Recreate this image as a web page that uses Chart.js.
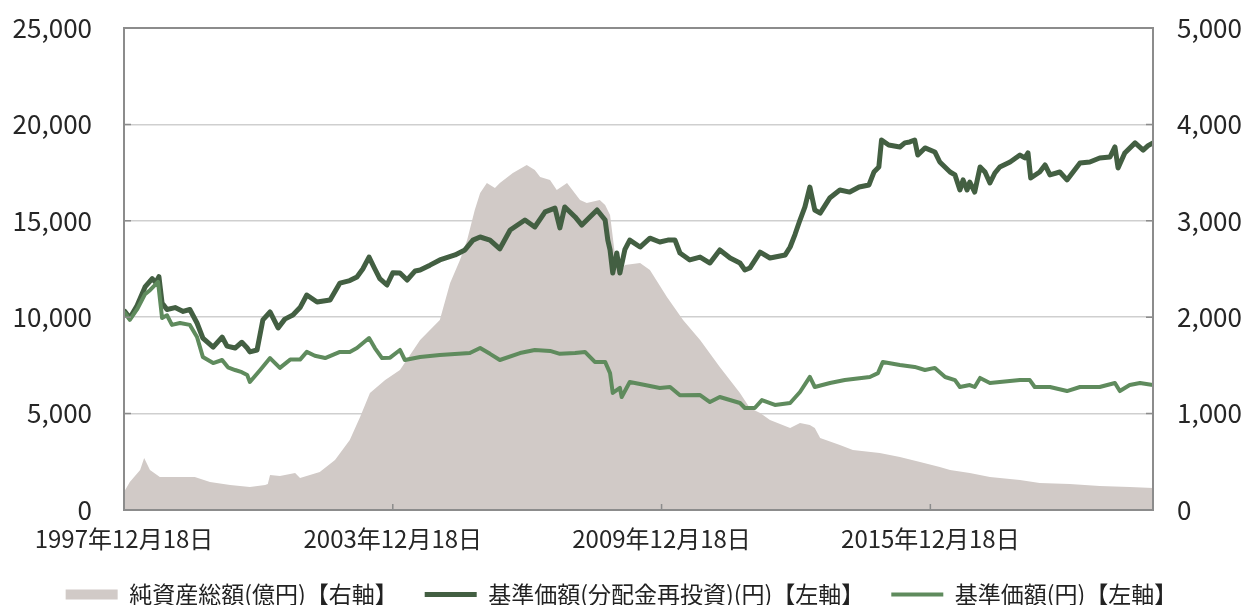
<!DOCTYPE html>
<html><head><meta charset="utf-8">
<script src="https://cdn.jsdelivr.net/npm/chart.js@4"></script>
<style>html,body{margin:0;padding:0;background:#fff}#wrap{width:1243px;height:605px}</style>
</head><body><div id="wrap"><canvas id="c" width="1243" height="605"></canvas></div>
<script>
// ---- data ----
const seriesNames = ['純資産総額(億円)【右軸】', '基準価額(分配金再投資)(円)【左軸】', '基準価額(円)【左軸】'];
const tickYears = [1997.96, 2003.96, 2009.96, 2015.96];
const tickLabels = ['1997年12月18日', '2003年12月18日', '2009年12月18日', '2015年12月18日'];
const leftTickLabels = ['0', '5,000', '10,000', '15,000', '20,000', '25,000'];
const rightTickLabels = ['0', '1,000', '2,000', '3,000', '4,000', '5,000'];

const assetDates = [1997.96,1998.09,1998.32,1998.41,1998.54,1998.76,1999.21,1999.54,1999.88,2000.33,2000.77,2001.11,2001.17,2001.22,2001.44,2001.78,2001.89,2002.33,2002.67,2003.00,2003.23,2003.45,2003.79,2004.12,2004.57,2005.01,2005.24,2005.46,2005.62,2005.79,2005.91,2006.06,2006.24,2006.35,2006.64,2006.95,2007.13,2007.25,2007.47,2007.62,2007.85,2008.14,2008.29,2008.58,2008.70,2008.81,2008.92,2009.03,2009.14,2009.48,2009.70,2010.08,2010.44,2010.82,2011.26,2011.71,2011.93,2012.16,2012.38,2012.83,2013.05,2013.27,2013.38,2013.50,2013.94,2014.23,2014.83,2015.28,2015.73,2016.17,2016.40,2016.84,2017.29,2017.96,2018.40,2019.07,2019.74,2020.41,2020.93];
const assetValues = [186,290,414,540,414,342,342,342,290,260,238,260,270,363,352,384,332,394,518,726,964,1214,1348,1452,1764,1971,2355,2594,2801,3112,3289,3392,3340,3392,3496,3579,3527,3454,3423,3320,3392,3216,3185,3216,3164,3060,2645,2438,2541,2562,2490,2210,1971,1764,1483,1214,1058,1006,934,850,902,882,850,746,674,622,591,550,498,446,415,384,342,311,280,270,249,239,228];

const navReinvDates = [1997.98,1998.09,1998.25,1998.43,1998.59,1998.67,1998.74,1998.81,1998.92,1999.10,1999.28,1999.43,1999.59,1999.72,1999.95,2000.15,2000.26,2000.44,2000.59,2000.71,2000.77,2000.93,2001.06,2001.22,2001.40,2001.55,2001.73,2001.89,2002.04,2002.27,2002.56,2002.78,2003.00,2003.16,2003.29,2003.43,2003.56,2003.67,2003.83,2003.96,2004.12,2004.28,2004.46,2004.57,2004.79,2005.01,2005.35,2005.57,2005.75,2005.91,2006.13,2006.35,2006.58,2006.91,2007.13,2007.36,2007.58,2007.69,2007.80,2008.03,2008.18,2008.36,2008.52,2008.70,2008.76,2008.81,2008.87,2008.96,2009.03,2009.14,2009.25,2009.48,2009.70,2009.92,2010.10,2010.26,2010.37,2010.59,2010.82,2011.04,2011.26,2011.49,2011.71,2011.82,2011.93,2012.16,2012.38,2012.72,2012.83,2012.94,2013.05,2013.16,2013.27,2013.38,2013.50,2013.72,2013.94,2014.16,2014.37,2014.59,2014.70,2014.81,2014.87,2015.03,2015.28,2015.39,2015.50,2015.61,2015.68,2015.84,2016.06,2016.17,2016.40,2016.51,2016.62,2016.69,2016.78,2016.84,2016.95,2017.07,2017.18,2017.29,2017.40,2017.51,2017.74,2017.96,2018.07,2018.14,2018.20,2018.40,2018.52,2018.63,2018.85,2019.01,2019.30,2019.52,2019.74,2019.97,2020.08,2020.15,2020.30,2020.53,2020.71,2020.82,2020.93];
const navReinvValues = [10300,9960,10600,11570,12000,11800,12100,10740,10400,10500,10300,10400,9700,8920,8450,8970,8500,8400,8700,8400,8200,8300,9860,10270,9440,9900,10110,10500,11150,10790,10890,11770,11900,12090,12500,13120,12500,12000,11670,12300,12290,11930,12400,12450,12700,12970,13230,13490,14000,14160,14000,13550,14520,15040,14680,15460,15660,14630,15720,15200,14780,15200,15560,15040,14000,13490,12290,13330,12290,13500,14000,13640,14100,13900,14000,14000,13330,12970,13120,12810,13490,13070,12810,12450,12550,13380,13070,13230,13640,14300,15040,15720,16750,15560,15400,16200,16600,16490,16750,16860,17530,17790,19190,18930,18830,19040,19090,19190,18410,18780,18570,18050,17530,17380,16600,17120,16600,17010,16490,17790,17530,16960,17480,17790,18050,18410,18260,18520,17220,17530,17900,17380,17530,17120,18000,18050,18260,18310,18830,17740,18520,19040,18670,18900,19040];

const navDates = [1997.98,1998.09,1998.25,1998.43,1998.54,1998.72,1998.81,1998.92,1999.03,1999.21,1999.43,1999.59,1999.72,1999.95,2000.15,2000.28,2000.44,2000.59,2000.71,2000.77,2001.00,2001.22,2001.44,2001.67,2001.89,2002.04,2002.22,2002.45,2002.78,2003.00,2003.16,2003.43,2003.56,2003.72,2003.90,2004.12,2004.23,2004.57,2005.01,2005.68,2005.91,2006.13,2006.35,2006.80,2007.13,2007.47,2007.69,2008.03,2008.25,2008.47,2008.70,2008.81,2008.87,2009.03,2009.07,2009.25,2009.59,2009.92,2010.15,2010.37,2010.82,2011.04,2011.26,2011.71,2011.82,2012.04,2012.20,2012.49,2012.83,2013.05,2013.27,2013.38,2013.72,2014.05,2014.61,2014.79,2014.90,2015.28,2015.61,2015.84,2016.06,2016.29,2016.51,2016.62,2016.84,2016.95,2017.07,2017.29,2017.51,2017.96,2018.18,2018.29,2018.63,2019.01,2019.30,2019.74,2020.08,2020.19,2020.41,2020.64,2020.93];
const navValues = [10220,9860,10400,11200,11400,11830,9960,10100,9600,9700,9600,8970,7940,7620,7780,7400,7260,7150,7000,6640,7260,7880,7370,7800,7800,8200,8000,7880,8200,8200,8400,8920,8400,7880,7900,8300,7780,7940,8040,8140,8400,8100,7780,8140,8300,8250,8100,8140,8200,7680,7680,7100,6070,6330,5860,6640,6480,6330,6380,5950,5960,5600,5860,5550,5290,5290,5700,5450,5550,6120,6900,6380,6590,6740,6900,7100,7680,7520,7420,7260,7370,6900,6740,6380,6480,6380,6850,6590,6640,6740,6740,6380,6380,6170,6380,6380,6590,6170,6480,6590,6480];

// ---- chart ----
Chart.defaults.font.family = "'Noto Sans CJK JP', 'Noto Sans', sans-serif";
Chart.defaults.color = '#262626';

const toPts = (xs, ys) => xs.map((x, i) => ({x: x, y: ys[i]}));

const framePlugin = {
  id: 'frame',
  afterDatasetsDraw(chart) {
    const {ctx, chartArea: a, scales} = chart;
    ctx.save();
    ctx.strokeStyle = '#8c8c8c';
    ctx.lineWidth = 1.5;
    ctx.beginPath();
    scales.y.ticks.forEach(t => { const p = scales.y.getPixelForValue(t.value); ctx.moveTo(a.left, p); ctx.lineTo(a.left + 7, p); });
    scales.y2.ticks.forEach(t => { const p = scales.y2.getPixelForValue(t.value); ctx.moveTo(a.right - 7, p); ctx.lineTo(a.right, p); });
    scales.x.ticks.forEach(t => { const p = scales.x.getPixelForValue(t.value); ctx.moveTo(p, a.bottom); ctx.lineTo(p, a.bottom - 6); });
    ctx.stroke();
    ctx.lineWidth = 2;
    ctx.strokeRect(a.left, a.top, a.right - a.left, a.bottom - a.top);
    ctx.restore();
  }
};

new Chart(document.getElementById('c'), {
  type: 'line',
  data: {
    datasets: [
      { label: seriesNames[0], data: toPts(assetDates, assetValues), yAxisID: 'y2', fill: 'origin',
        backgroundColor: '#d1cac7', borderColor: '#d1cac7', borderWidth: 0, pointRadius: 0, order: 3 },
      { label: seriesNames[1], data: toPts(navReinvDates, navReinvValues), yAxisID: 'y', fill: false,
        borderColor: '#435f42', backgroundColor: '#435f42', borderWidth: 5, pointRadius: 0,
        borderJoinStyle: 'round', borderCapStyle: 'round', order: 2 },
      { label: seriesNames[2], data: toPts(navDates, navValues), yAxisID: 'y', fill: false,
        borderColor: '#5f8b5d', backgroundColor: '#5f8b5d', borderWidth: 4, pointRadius: 0,
        borderJoinStyle: 'round', borderCapStyle: 'round', order: 1 }
    ]
  },
  options: {
    responsive: false,
    animation: false,
    devicePixelRatio: 1,
    layout: { padding: { top: 28, left: 0, right: 0, bottom: 0 } },
    plugins: {
      tooltip: { enabled: false },
      legend: {
        position: 'bottom',
        maxHeight: 49,
        labels: {
          usePointStyle: true,
          pointStyleWidth: 52,
          boxHeight: 10,
          padding: 27,
          color: '#222',
          font: { size: 23 },
          generateLabels: (chart) => chart.data.datasets.map((ds, i) => ({
            text: ds.label,
            fillStyle: i === 0 ? ds.backgroundColor : ds.borderColor,
            strokeStyle: ds.borderColor,
            lineWidth: i === 0 ? 0 : ds.borderWidth,
            pointStyle: i === 0 ? 'rect' : 'line',
            fontColor: '#222',
            hidden: false,
            datasetIndex: i
          }))
        }
      }
    },
    scales: {
      x: {
        type: 'linear', min: 1997.96, max: 2020.93,
        afterBuildTicks: s => { s.ticks = tickYears.map(v => ({value: v})); },
        afterFit: s => { s.height = 46; },
        grid: { display: false, drawTicks: false },
        border: { display: false },
        ticks: { autoSkip: false, maxRotation: 0, padding: 14, font: { size: 24 },
                 callback: (v, i) => tickLabels[i] }
      },
      y: {
        position: 'left', min: 0, max: 25000,
        afterFit: s => { s.width = 124; },
        grid: { color: '#cfcfcf', lineWidth: 1.5, drawTicks: true, tickLength: 32, tickColor: 'rgba(0,0,0,0)' },
        border: { display: false },
        ticks: { stepSize: 5000, padding: 0, font: { size: 26 }, callback: (v, i) => leftTickLabels[i] }
      },
      y2: {
        position: 'right', min: 0, max: 5000,
        afterFit: s => { s.width = 90; },
        grid: { drawOnChartArea: false, drawTicks: true, tickLength: 24, tickColor: 'rgba(0,0,0,0)' },
        border: { display: false },
        ticks: { stepSize: 1000, padding: 0, font: { size: 26 }, callback: (v, i) => rightTickLabels[i] }
      }
    }
  },
  plugins: [framePlugin]
});
</script>
</body></html>
